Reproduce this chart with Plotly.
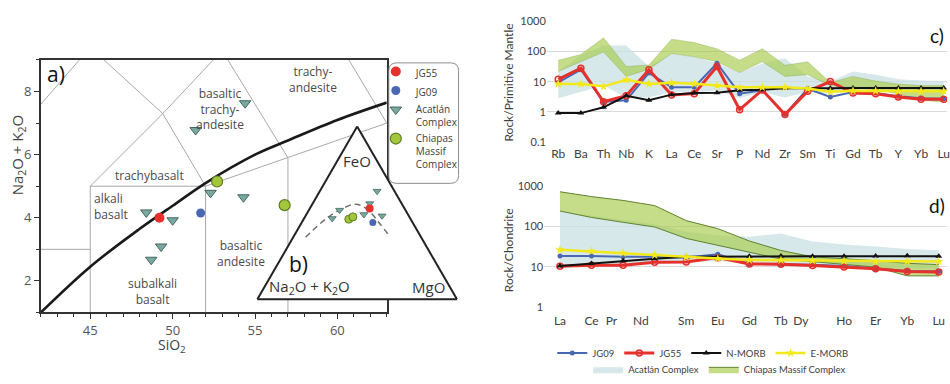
import plotly.graph_objects as go

W, H = 950, 384


def fx(px):
    """horizontal pixel -> paper fraction"""
    return px / W


def fy(px):
    """vertical pixel (from top) -> paper fraction"""
    return 1 - px / H


# ---------------- a) TAS diagram ----------------
# Le Bas et al. (1986) field boundaries (SiO2, Na2O+K2O)
TAS_BOUNDARIES = [
    [(41, 3), (45, 3)],
    [(45, 1), (45, 5), (52, 5), (52, 1)],
    [(45, 5), (49.4, 7.3), (52, 5)],
    [(49.4, 7.3), (53, 9.3)],
    [(52, 5), (57, 5.9), (63, 7)],
    [(57, 1), (57, 5.9), (53, 9.3)],
    [(63, 7), (57.6, 11.7)],
    [(41, 7), (45, 9.4), (49.4, 7.3)],
]
# Irvine & Baragar alkaline / subalkaline divide
ib_sio2 = [42, 45, 48, 50, 52, 55, 57, 60, 63]
ib_alk = [1.0, 2.45, 3.65, 4.38, 5.1, 6.0, 6.45, 7.1, 7.65]

jg55_sio2, jg55_alk = [49.2], [4.0]
jg09_sio2, jg09_alk = [51.7], [4.15]
acat_sio2 = [48.4, 50.0, 49.3, 48.7, 51.4, 54.4, 52.3, 54.3]
acat_alk = [4.17, 3.92, 3.09, 2.67, 6.78, 7.63, 4.79, 4.65]
chia_sio2 = [52.7, 56.8]
chia_alk = [5.15, 4.4]

field_names = ["trachy-<br>andesite", "basaltic<br>trachy-<br>andesite", "trachybasalt",
               "alkali<br>basalt", "basaltic<br>andesite", "subalkali<br>basalt"]
field_x = [58.5, 52.9, 48.6, 45.1, 54.15, 48.8]
field_y = [8.39, 7.45, 5.35, 4.37, 2.88, 1.67]
field_align = ["center", "center", "center", "left", "center", "center"]

# ---------------- b) AFM ternary (wt% FeO, Na2O+K2O, MgO) ----------------
afm_acat_feo = [62.6, 55.4, 46.8, 51.6, 49.1, 48.3]
afm_acat_alk = [8.7, 16.0, 39.1, 33.0, 22.1, 13.4]
afm_acat_mgo = [28.7, 28.6, 14.1, 15.4, 28.8, 38.3]
afm_jg55 = ([52.5], [17.5], [30.0])
afm_jg09 = ([44.5], [19.9], [35.6])
afm_chia_feo = [46.4, 47.7]
afm_chia_alk = [31.0, 28.3]
afm_chia_mgo = [22.6, 24.0]
# tholeiitic / calc-alkaline divide
afm_div_feo = [35.9, 46.4, 52.5, 55.0, 52.1, 44.5, 35.9]
afm_div_alk = [57.9, 42.6, 31.2, 23.3, 18.9, 16.9, 15.4]
afm_div_mgo = [6.2, 11.0, 16.3, 21.7, 29.0, 38.6, 48.7]

# ---------------- c) primitive-mantle normalised spidergram ----------------
pm_elements = ["Rb", "Ba", "Th", "Nb", "K", "La", "Ce", "Sr", "P", "Nd", "Zr", "Sm",
               "Ti", "Gd", "Tb", "Y", "Yb", "Lu"]
jg09_pm = [9.4, 25, 2.1, 2.4, 19.6, 6.5, 6.5, 41, 4.0, 5.2, 0.82, 5.8, 3.1, 4.5, 4.2, 3.3, 2.8, 2.7]
jg55_pm = [12, 28, 2.15, 3.4, 25, 3.6, 4.0, 32, 1.17, 5.3, 0.81, 4.8, 10.1, 4.2, 4.0, 3.1, 2.6, 2.6]
nmorb_pm = [0.9, 0.9, 1.4, 3.4, 2.4, 3.7, 4.2, 4.3, 5.2, 5.4, 6.1, 6.0, 6.0, 6.2, 6.2, 6.2, 6.2, 6.2]
emorb_pm = [8.4, 8.3, 7.0, 11.5, 8.4, 9.2, 8.5, 7.4, 6.5, 6.5, 6.5, 5.9, 4.6, 5.0, 4.9, 4.8, 4.8, 4.8]
acat_pm_hi = [22, 76, 160, 160, 32, 86, 67, 41, 20, 40, 60, 15, 10, 22, 17, 12, 11, 10.5]
acat_pm_lo = [2.8, 4.5, 7.4, 3.0, 3.0, 4.5, 4.5, 5.0, 2.8, 4.5, 3.0, 4.5, 4.0, 5.0, 5.0, 5.0, 5.0, 5.0]
chia_pm_hi = [52, 80, 290, 32, 36, 260, 200, 125, 52, 125, 35, 46, 9.3, 15, 10.5, 8.3, 7.4, 7.4]
chia_pm_lo = [22, 45, 97, 15, 26, 86, 67, 46, 20, 46, 15, 17, 7.4, 6.6, 5.3, 4.0, 2.4, 2.1]

# ---------------- d) chondrite normalised REE ----------------
ree = ["La", "Ce", "Pr", "Nd", "Sm", "Eu", "Gd", "Tb", "Dy", "Ho", "Er", "Yb", "Lu"]
ree_idx = list(range(len(ree)))
ree_label_pos = [0, 1, 1.63, 2.56, 4, 5, 6, 7, 7.63, 9, 10, 11, 12]
jg09_cn = [18.8, 18.8, 17.8, 17.8, 17.0, 20.6, 11.9, 11.6, 11.4, 10.5, 9.0, 7.9, 7.7]
jg55_cn = [10.4, 11.0, 11.0, 13.0, 13.2, 17.0, 11.9, 11.6, 10.8, 9.9, 9.0, 7.7, 7.5]
nmorb_cn = [10.5, 12.2, 14.2, 16.0, 17.8, 18.1, 18.5, 18.6, 18.5, 18.5, 18.6, 18.9, 18.5]
emorb_cn = [26.6, 24.5, 22.0, 19.7, 17.6, 16.2, 14.9, 14.7, 14.4, 14.0, 13.8, 13.8, 13.6]
acat_cn_hi = [240, 190, 150, 115, 75, 60, 56, 68, 43, 36, 32, 28, 26]
acat_cn_lo = [10, 11, 11, 12, 13, 14, 12, 11, 11, 10, 9.5, 9, 9]
chia_cn_hi = [733, 556, 447, 333, 141, 89, 44, 25.6, 17.8, 16.3, 14.3, 12.3, 11.4]
chia_cn_lo = [244, 169, 128, 98, 51, 34, 22.5, 15.6, 13.5, 11.5, 9.9, 6.0, 6.0]

# ---------------- styles ----------------
RED = "#e5302b"
BLUE = "#4a67b4"
YELLOW = "#f2e81a"
TRI_FILL, TRI_LINE = "#7aa9a2", "#42675f"
GRN_FILL, GRN_LINE = "#a4c63c", "#5d7d22"
ACAT_AREA = "rgba(200,224,226,0.75)"
CHIA_AREA = "rgba(170,204,80,0.68)"
CHIA_EDGE = "#5f8330"
SANS = "Open Sans"
CAL = "Lato"

fig = go.Figure()

# --- a) field boundaries and alkaline divide
for seg in TAS_BOUNDARIES:
    xs, ys = zip(*seg)
    fig.add_trace(go.Scatter(x=xs, y=ys, mode="lines", line=dict(color="#a8a8a8", width=1),
                             showlegend=False, hoverinfo="skip", xaxis="x", yaxis="y"))
fig.add_trace(go.Scatter(x=ib_sio2, y=ib_alk, mode="lines",
                         line=dict(color="#1a1a1a", width=2.6, shape="spline"),
                         showlegend=False, hoverinfo="skip", xaxis="x", yaxis="y"))

fig.add_trace(go.Scatter(x=jg55_sio2, y=jg55_alk, mode="markers", name="JG55", legend="legend",
                         marker=dict(symbol="circle", size=10, color=RED, line=dict(width=0)),
                         xaxis="x", yaxis="y"))
fig.add_trace(go.Scatter(x=jg09_sio2, y=jg09_alk, mode="markers", name="JG09", legend="legend",
                         marker=dict(symbol="circle", size=9, color=BLUE, line=dict(width=0)),
                         xaxis="x", yaxis="y"))
fig.add_trace(go.Scatter(x=acat_sio2, y=acat_alk, mode="markers", name="Acatlán<br>Complex",
                         legend="legend",
                         marker=dict(symbol="triangle-down", size=10, color=TRI_FILL,
                                     line=dict(color=TRI_LINE, width=1)),
                         xaxis="x", yaxis="y"))
fig.add_trace(go.Scatter(x=chia_sio2, y=chia_alk, mode="markers", name="Chiapas<br>Massif<br>Complex",
                         legend="legend",
                         marker=dict(symbol="circle", size=11, color=GRN_FILL,
                                     line=dict(color=GRN_LINE, width=1.2)),
                         xaxis="x", yaxis="y"))

# --- b) AFM ternary
fig.add_trace(go.Scatterternary(a=afm_div_feo, b=afm_div_alk, c=afm_div_mgo, mode="lines",
                                line=dict(color="#6e6e6e", width=1.5, dash="6px,4px", shape="spline"),
                                showlegend=False, hoverinfo="skip"))
fig.add_trace(go.Scatterternary(a=afm_acat_feo, b=afm_acat_alk, c=afm_acat_mgo, mode="markers",
                                marker=dict(symbol="triangle-down", size=7, color=TRI_FILL,
                                            line=dict(color=TRI_LINE, width=0.8)),
                                showlegend=False))
fig.add_trace(go.Scatterternary(a=afm_chia_feo, b=afm_chia_alk, c=afm_chia_mgo, mode="markers",
                                marker=dict(symbol="circle", size=8, color=GRN_FILL,
                                            line=dict(color=GRN_LINE, width=1)),
                                showlegend=False))
fig.add_trace(go.Scatterternary(a=afm_jg09[0], b=afm_jg09[1], c=afm_jg09[2], mode="markers",
                                marker=dict(symbol="circle", size=7, color=BLUE), showlegend=False))
fig.add_trace(go.Scatterternary(a=afm_jg55[0], b=afm_jg55[1], c=afm_jg55[2], mode="markers",
                                marker=dict(symbol="circle", size=8, color=RED), showlegend=False))


# --- c) and d) envelopes and patterns
def envelope(x, lo, hi, color, edge, edge_w, name, xa, ya, show):
    fig.add_trace(go.Scatter(x=x, y=lo, mode="lines", line=dict(color=edge, width=edge_w),
                             showlegend=False, hoverinfo="skip", xaxis=xa, yaxis=ya))
    fig.add_trace(go.Scatter(x=x, y=hi, mode="lines", fill="tonexty", fillcolor=color,
                             line=dict(color=edge, width=edge_w), name=name,
                             legend="legend3", showlegend=show, hoverinfo="skip",
                             xaxis=xa, yaxis=ya))


def pattern(x, y, name, xa, ya, show):
    styles = {
        "JG09": dict(line=dict(color=BLUE, width=2),
                     marker=dict(symbol="circle", size=5, color=BLUE)),
        "JG55": dict(line=dict(color=RED, width=3),
                     marker=dict(symbol="circle-open", size=6, color=RED, line=dict(width=1.5))),
        "N-MORB": dict(line=dict(color="#111111", width=2),
                       marker=dict(symbol="triangle-up", size=6, color="#111111")),
        "E-MORB": dict(line=dict(color=YELLOW, width=2.5),
                       marker=dict(symbol="star", size=7, color=YELLOW)),
    }[name]
    fig.add_trace(go.Scatter(x=x, y=y, mode="lines+markers", name=name, legend="legend2",
                             showlegend=show, hoverinfo="skip", xaxis=xa, yaxis=ya, **styles))


envelope(pm_elements, acat_pm_lo, acat_pm_hi, ACAT_AREA, "rgba(0,0,0,0)", 0,
         "Acatlán Complex", "x2", "y2", True)
envelope(pm_elements, chia_pm_lo, chia_pm_hi, CHIA_AREA, "rgba(110,150,50,0.45)", 0.6,
         "Chiapas Massif Complex", "x2", "y2", False)
envelope(ree_idx, acat_cn_lo, acat_cn_hi, ACAT_AREA, "rgba(0,0,0,0)", 0,
         "Acatlán Complex", "x3", "y3", False)
envelope(ree_idx, chia_cn_lo, chia_cn_hi, CHIA_AREA, CHIA_EDGE, 1,
         "Chiapas Massif Complex", "x3", "y3", True)

for nm, ys in [("JG09", jg09_pm), ("JG55", jg55_pm), ("N-MORB", nmorb_pm), ("E-MORB", emorb_pm)]:
    pattern(pm_elements, ys, nm, "x2", "y2", True)
for nm, ys in [("JG09", jg09_cn), ("JG55", jg55_cn), ("N-MORB", nmorb_cn), ("E-MORB", emorb_cn)]:
    pattern(ree_idx, ys, nm, "x3", "y3", False)

# ---------------- annotations ----------------
ann = []
for t, x, y, al in zip(field_names, field_x, field_y, field_align):
    ann.append(dict(text=t, x=x, y=y, xref="x", yref="y", showarrow=False, align=al,
                    xanchor="left" if al == "left" else "center",
                    font=dict(family=SANS, size=12, color="#4a4a4a")))


def label(text, x, y, size, family=SANS, color="#333333", angle=0):
    ann.append(dict(text=text, x=fx(x), y=fy(y), xref="paper", yref="paper", showarrow=False,
                    font=dict(family=family, size=size, color=color), textangle=angle,
                    xanchor="center", yanchor="middle"))


label("a)", 56, 70, 21, color="#111111")
label("b)", 299, 267, 21, color="#111111")
label("FeO", 358, 160, 15)
label("Na<sub>2</sub>O + K<sub>2</sub>O", 310, 291, 15)
label("MgO", 430, 291, 15)
label("SiO<sub>2</sub>", 173, 351, 14, color="#444444")
label("Na<sub>2</sub>O + K<sub>2</sub>O", 18, 153, 15, color="#444444", angle=-90)
label("c)", 940, 30, 19, family=CAL, color="#111111")
label("d)", 940, 206, 19, family=CAL, color="#111111")
label("Rock/Primitive Mantle", 510, 78, 12, family=CAL, color="#404040", angle=-90)
label("Rock/Chondrite", 510, 252, 12, family=CAL, color="#404040", angle=-90)

# rounded frame around the TAS legend
x0, x1, y0, y1, r = fx(390), fx(460), fy(183), fy(58), 8
rx, ry = r / W, r / H
legend_box = (f"M {x0+rx},{y1} L {x1-rx},{y1} Q {x1},{y1} {x1},{y1-ry} "
              f"L {x1},{y0+ry} Q {x1},{y0} {x1-rx},{y0} L {x0+rx},{y0} "
              f"Q {x0},{y0} {x0},{y0+ry} L {x0},{y1-ry} Q {x0},{y1} {x0+rx},{y1} Z")

tern_axis = dict(showticklabels=False, ticks="", showgrid=False, showline=True,
                 linecolor="#222222", linewidth=2, title=dict(text=""))

log_ticks = dict(type="log", tickmode="array", showgrid=True, gridcolor="#d9d9d9", gridwidth=1,
                 zeroline=False, showline=False, ticks="",
                 tickfont=dict(family=CAL, size=11, color="#404040"))

fig.update_layout(
    width=W, height=H, margin=dict(l=0, r=0, t=0, b=0),
    paper_bgcolor="white", plot_bgcolor="white",
    font=dict(family=SANS, color="#404040"),
    xaxis=dict(domain=[fx(41), fx(388)], range=[42, 63], tick0=45, dtick=5, anchor="y",
               ticks="outside", ticklen=5, tickcolor="#333333",
               minor=dict(tick0=0, dtick=1, ticks="outside", ticklen=3, tickcolor="#333333"),
               showline=True, mirror=True, linecolor="#333333", linewidth=1.6,
               showgrid=False, zeroline=False, tickfont=dict(size=13, color="#555555")),
    yaxis=dict(domain=[fy(317), fy(55)], range=[1, 9], tick0=0, dtick=2, anchor="x",
               ticks="outside", ticklen=5, tickcolor="#333333",
               minor=dict(tick0=0, dtick=1, ticks="outside", ticklen=3, tickcolor="#333333"),
               showline=True, mirror=True, linecolor="#333333", linewidth=1.6,
               showgrid=False, zeroline=False, tickfont=dict(size=13, color="#555555")),
    xaxis2=dict(domain=[fx(548.6), 1], range=[-0.5, 17.145], type="category", anchor="y2",
                showgrid=False, zeroline=False, showline=False, ticks="",
                ticklabeloverflow="allow", ticklabelstandoff=3,
                tickfont=dict(family=CAL, size=12, color="#404040")),
    yaxis2=dict(domain=[fy(140), fy(15)], range=[-1.003, 3.003],
                tickvals=[0.1, 1, 10, 100, 1000], ticktext=["0.1", "1", "10", "100", "1000"],
                anchor="x2", **log_ticks),
    xaxis3=dict(domain=[fx(545.9), 1], range=[-0.5, 12.26], tickmode="array",
                tickvals=ree_label_pos, ticktext=ree,
                showgrid=False, zeroline=False, showline=False, ticks="",
                ticklabeloverflow="allow", ticklabelstandoff=5,
                tickfont=dict(family=CAL, size=12, color="#404040"), anchor="y3"),
    yaxis3=dict(domain=[fy(311.7), fy(186)], range=[-0.003, 3.003],
                tickvals=[1, 10, 100, 1000], ticktext=["1", "10", "100", "1000"],
                anchor="x3", **log_ticks),
    ternary=dict(domain=dict(x=[fx(255.2), fx(461.4)], y=[fy(303.4), fy(124.0)]),
                 sum=100, bgcolor="white",
                 aaxis=tern_axis, baxis=tern_axis, caxis=tern_axis),
    legend=dict(x=fx(377), y=fy(53.5), xanchor="left", yanchor="top",
                bgcolor="rgba(0,0,0,0)", borderwidth=0, valign="top",
                font=dict(family=SANS, size=10, color="#404040")),
    legend2=dict(orientation="h", x=fx(705), y=fy(344), xanchor="center", yanchor="top",
                 bgcolor="rgba(0,0,0,0)", borderwidth=0, traceorder="normal",
                 font=dict(family=CAL, size=9.5, color="#404040")),
    legend3=dict(orientation="h", x=fx(722), y=fy(361), xanchor="center", yanchor="top",
                 bgcolor="rgba(0,0,0,0)", borderwidth=0, traceorder="normal",
                 font=dict(family=CAL, size=9.5, color="#404040")),
    shapes=[dict(type="path", path=legend_box, xref="paper", yref="paper",
                 line=dict(color="#8c8c8c", width=1), fillcolor="rgba(0,0,0,0)")],
    annotations=ann,
    showlegend=True,
)

fig.write_html("out.html")
